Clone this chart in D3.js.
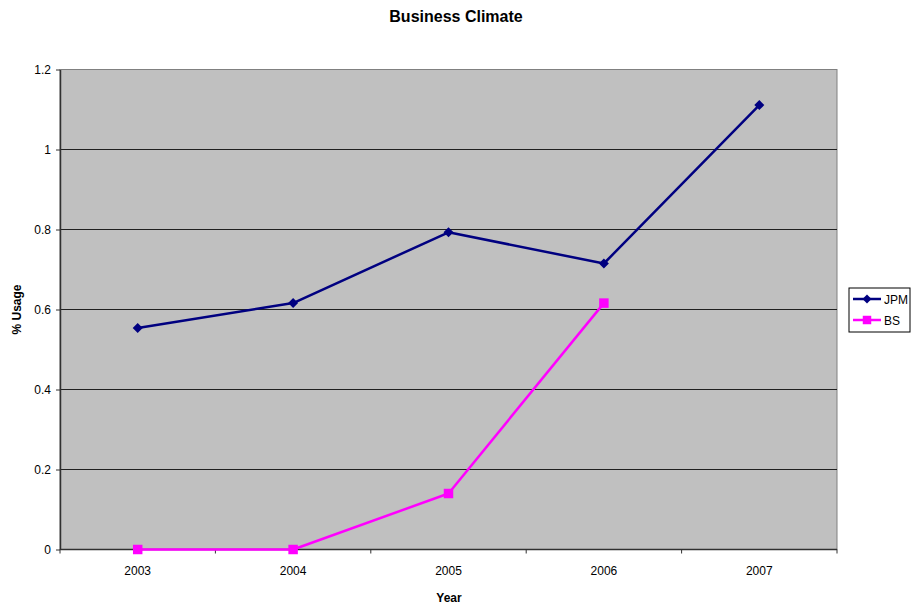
<!DOCTYPE html>
<html>
<head>
<meta charset="utf-8">
<script src="https://cdn.jsdelivr.net/npm/d3@7"></script>
<style>
  html, body { margin: 0; padding: 0; background: #fff; }
  svg { display: block; font-family: "Liberation Sans", Arial, sans-serif; }
</style>
</head>
<body>
<svg id="chart" width="911" height="608"></svg>
<script>
// Business climate usage by year
const years = ["2003", "2004", "2005", "2006", "2007"];
const jpm = [0.554, 0.616, 0.793, 0.715, 1.111];
const bs = [0, 0, 0.14, 0.616, null];
const yTicks = [0, 0.2, 0.4, 0.6, 0.8, 1, 1.2];

const svg = d3.select("#chart");
const plot = { left: 60, right: 837, top: 69.5, bottom: 549.5 };

const x = d3.scaleBand().domain(years).range([plot.left, plot.right]);
const y = d3.scaleLinear().domain([0, 1.2]).range([plot.bottom, plot.top]);
const cx = d => x(d) + x.bandwidth() / 2;

// plot background
svg.append("rect")
  .attr("x", plot.left).attr("y", plot.top)
  .attr("width", plot.right - plot.left).attr("height", plot.bottom - plot.top)
  .attr("fill", "#c0c0c0")
  .attr("stroke", "#808080").attr("stroke-width", 1);

// horizontal gridlines
svg.append("g").selectAll("line")
  .data(yTicks.filter(t => t > 0 && t < 1.2))
  .join("line")
  .attr("x1", plot.left).attr("x2", plot.right)
  .attr("y1", d => y(d)).attr("y2", d => y(d))
  .attr("stroke", "#202020").attr("stroke-width", 1.2);

// y axis
const yAxis = svg.append("g")
  .attr("transform", `translate(${plot.left},0)`)
  .call(d3.axisLeft(y).tickValues(yTicks).tickFormat(d => String(d)).tickSize(4).tickSizeOuter(0));
yAxis.select(".domain").attr("stroke", "#303030").attr("stroke-width", 1.5);
yAxis.selectAll(".tick line").attr("stroke", "#303030");
yAxis.selectAll(".tick text").attr("font-size", 12).attr("fill", "#000")
  .attr("font-family", "Liberation Sans, Arial, sans-serif").attr("x", -9);

// x axis, ticks between categories
const xg = svg.append("g").attr("transform", `translate(0,${plot.bottom})`);
xg.append("line").attr("x1", plot.left).attr("x2", plot.right)
  .attr("stroke", "#303030").attr("stroke-width", 1.5);
const edges = years.map(d => x(d)).concat([plot.right]);
xg.selectAll("line.tk").data(edges).join("line").attr("class", "tk")
  .attr("x1", d => d).attr("x2", d => d).attr("y1", 0).attr("y2", 4)
  .attr("stroke", "#303030");
xg.selectAll("text").data(years).join("text")
  .attr("x", d => cx(d)).attr("y", 25)
  .attr("text-anchor", "middle").attr("font-size", 12).attr("fill", "#000")
  .text(d => d);

// series lines and markers (diamond = square turned 45 degrees)
const series = [
  { name: "JPM", values: jpm, color: "#000080", shape: d3.symbolSquare, size: 50, rot: 45 },
  { name: "BS", values: bs, color: "#ff00ff", shape: d3.symbolSquare, size: 90, rot: 0 }
];

const line = d3.line()
  .defined(d => d.v !== null)
  .x(d => cx(d.year)).y(d => y(d.v));

series.forEach(s => {
  const pts = years.map((yr, i) => ({ year: yr, v: s.values[i] }));
  svg.append("path").datum(pts)
    .attr("d", line).attr("fill", "none")
    .attr("stroke", s.color).attr("stroke-width", 2.5)
    .attr("stroke-linejoin", "round");
  svg.append("g").selectAll("path")
    .data(pts.filter(p => p.v !== null))
    .join("path")
    .attr("transform", p => `translate(${cx(p.year)},${y(p.v)}) rotate(${s.rot})`)
    .attr("d", d3.symbol().type(s.shape).size(s.size))
    .attr("fill", s.color);
});

// title and axis titles
svg.append("text").attr("x", 456).attr("y", 22)
  .attr("text-anchor", "middle").attr("font-size", 16).attr("font-weight", "bold")
  .text("Business Climate");
svg.append("text").attr("x", 449).attr("y", 602)
  .attr("text-anchor", "middle").attr("font-size", 12).attr("font-weight", "bold")
  .text("Year");
svg.append("text")
  .attr("transform", `translate(21,${(plot.top + plot.bottom) / 2}) rotate(-90)`)
  .attr("text-anchor", "middle").attr("font-size", 12).attr("font-weight", "bold")
  .text("% Usage");

// legend
const lg = svg.append("g").attr("transform", "translate(849,288)");
lg.append("rect").attr("width", 61).attr("height", 44)
  .attr("fill", "#fff").attr("stroke", "#000").attr("stroke-width", 1);
series.forEach((s, i) => {
  const ly = 11 + i * 21;
  lg.append("line").attr("x1", 4).attr("x2", 32).attr("y1", ly).attr("y2", ly)
    .attr("stroke", s.color).attr("stroke-width", 2.5);
  lg.append("path").attr("transform", `translate(18,${ly}) rotate(${s.rot})`)
    .attr("d", d3.symbol().type(s.shape).size(s.size * 0.8)).attr("fill", s.color);
  lg.append("text").attr("x", 35).attr("y", ly + 4.5)
    .attr("font-size", 12).attr("fill", "#000").text(s.name);
});
</script>
</body>
</html>
